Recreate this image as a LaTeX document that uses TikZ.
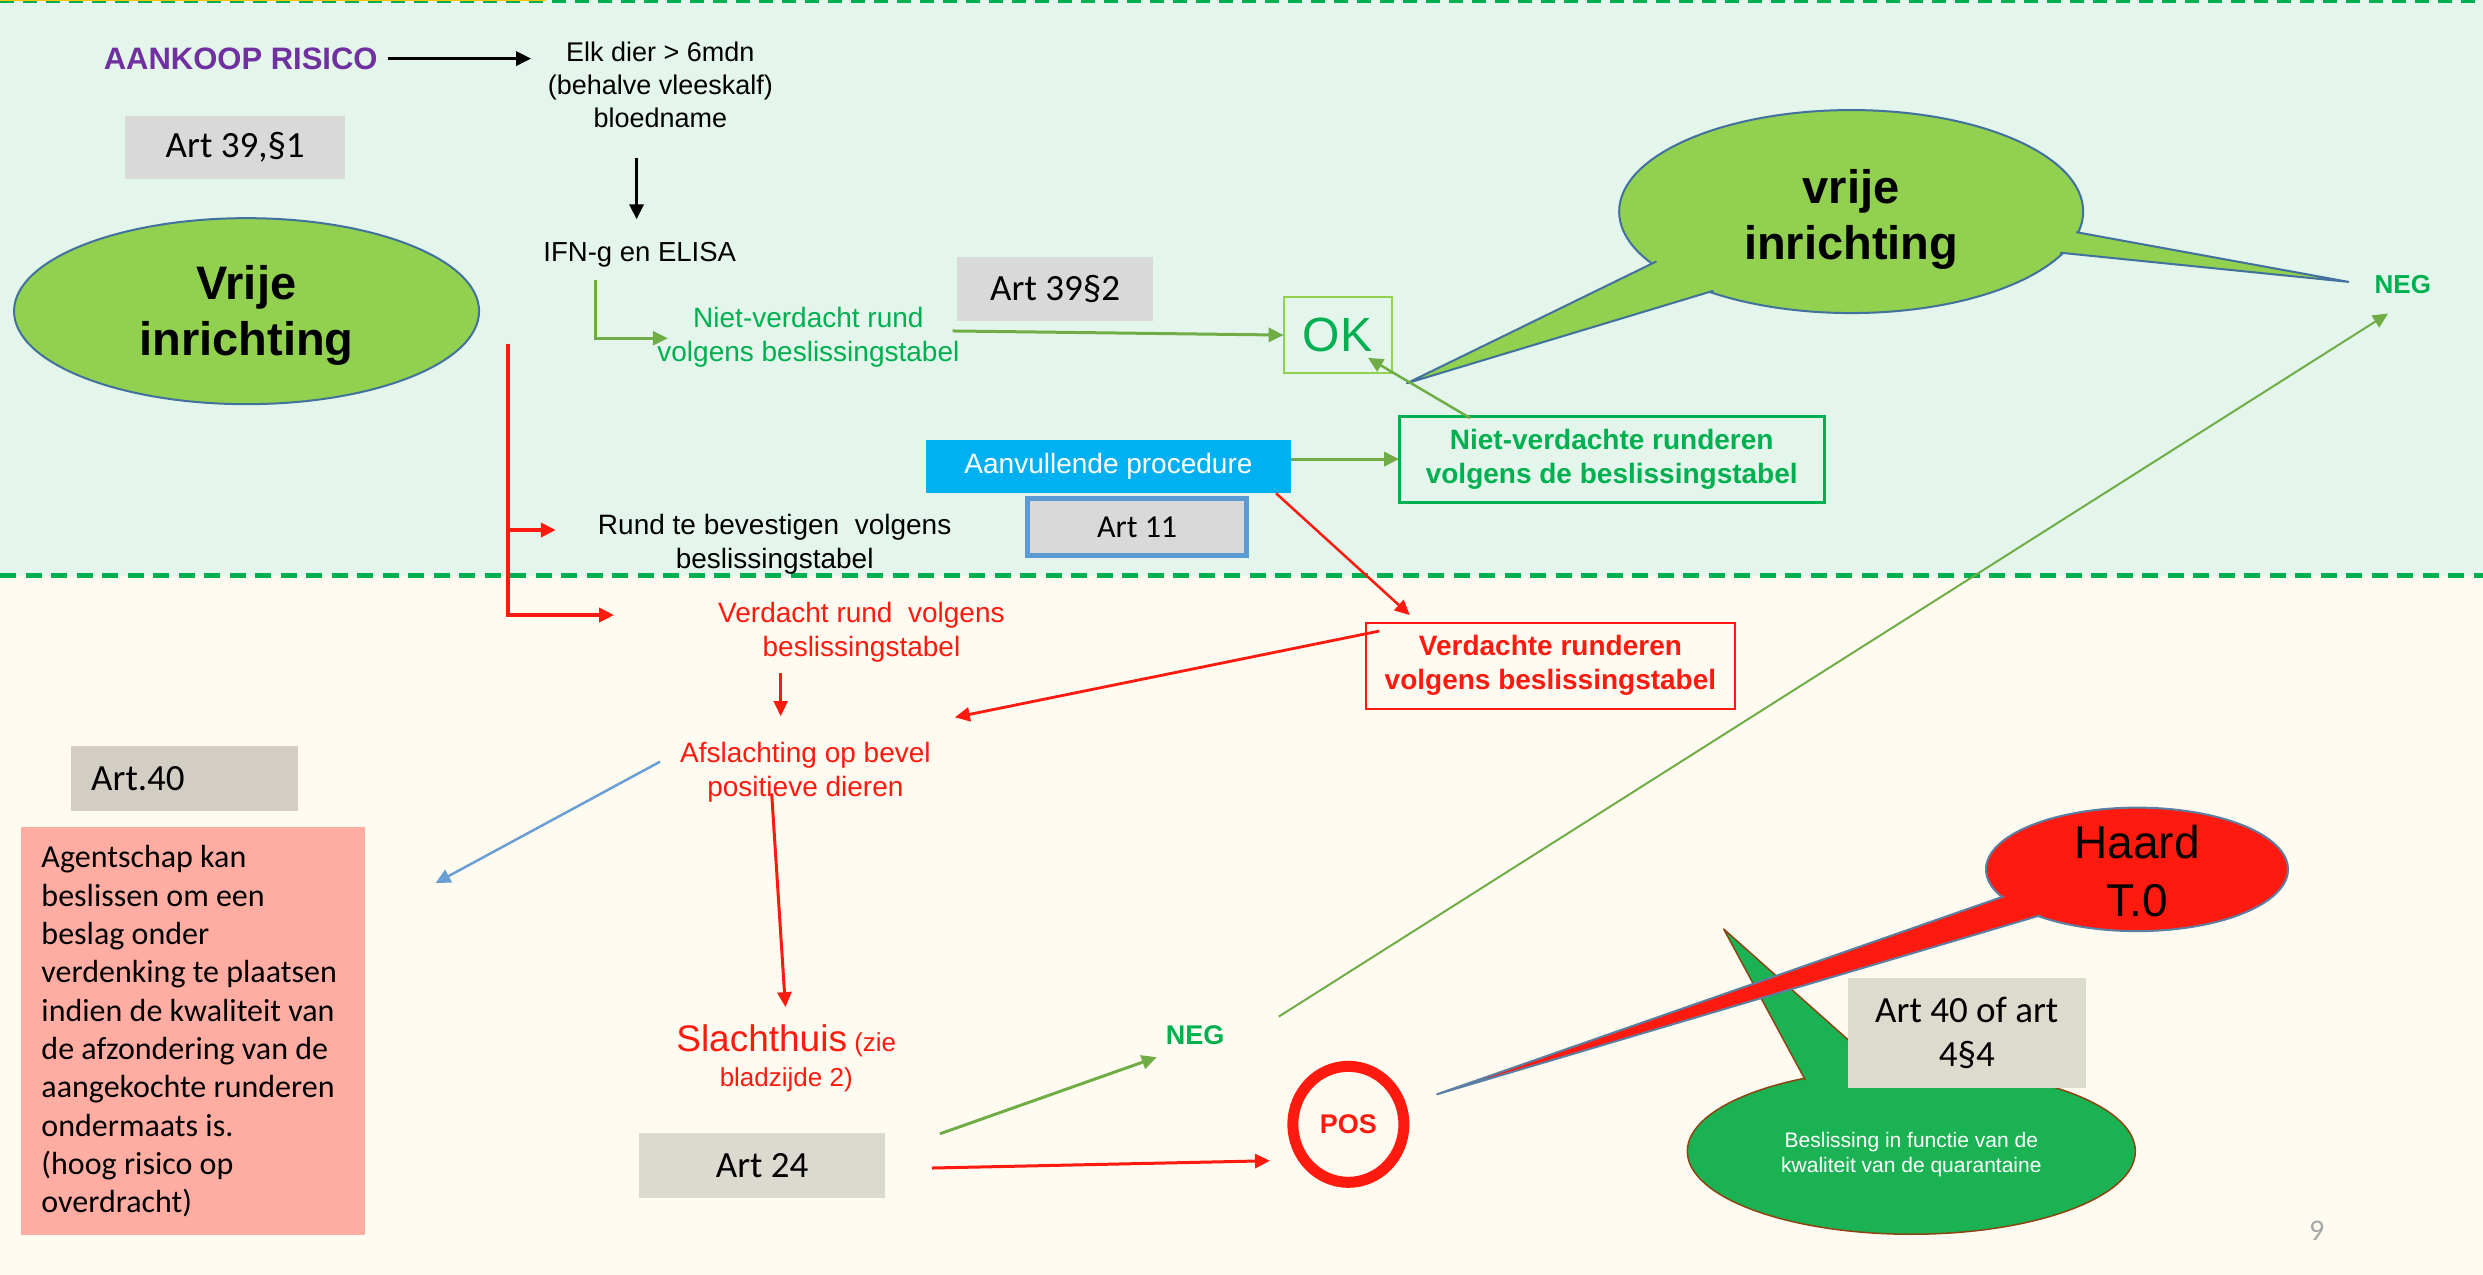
\documentclass[tikz,border=0pt]{standalone}
\usepackage{fontspec}
\setmainfont{Liberation Sans}
\newfontfamily\calfont{Carlito}
\usetikzlibrary{arrows.meta,shapes.geometric,calc}
\definecolor{mint}{HTML}{E4F6EC}
\definecolor{cream}{HTML}{FFFBF0}
\definecolor{dgreen}{HTML}{00B050}
\definecolor{lgreen}{HTML}{70AD47}
\definecolor{ygreen}{HTML}{92D050}
\definecolor{purp}{HTML}{7030A0}
\definecolor{bred}{HTML}{FF1A10}
\definecolor{cyanb}{HTML}{00B0F0}
\definecolor{sblue}{HTML}{5B9BD5}
\definecolor{eblue}{HTML}{41719C}
\definecolor{hblue}{HTML}{5A7FA3}
\definecolor{gbox}{HTML}{D9D9D9}
\definecolor{wbox}{HTML}{DCDAD0}
\definecolor{wboxb}{HTML}{DDDACE}
\definecolor{abox}{HTML}{D3CEC4}
\definecolor{pinkbox}{HTML}{FFADA3}
\definecolor{qgreen}{HTML}{1BB254}
\definecolor{brn}{HTML}{8B4513}
\definecolor{arrblue}{HTML}{6A9FD4}
\definecolor{pgray}{HTML}{A6A6A6}
\definecolor{goldl}{HTML}{FFC000}
\begin{document}
\begin{tikzpicture}[x=1.5835pt,y=-1.5835pt,
  every node/.style={inner sep=0pt,outer sep=0pt},
  arr/.style={-{Triangle[length=15pt,width=14pt]}},
  t28/.style={font=\fontsize{28}{34}\selectfont,align=center},
  b28/.style={font=\bfseries\fontsize{28}{34}\selectfont,align=center},
  cbox/.style={font=\calfont\fontsize{37}{44}\selectfont,align=center,text=black}]
\useasboundingbox (0,0) rectangle (1568,805);
% backgrounds
\fill[mint] (0,0) rectangle (1568,363.5);
\fill[cream] (0,363.5) rectangle (1568,805);
\draw[dgreen,line width=3.3pt,dash pattern=on 14pt off 9pt] (0,1.05) -- (1568,1.05);
\draw[goldl,line width=1pt] (0,0.3) -- (345,0.3);
\draw[dgreen,line width=4.3pt,dash pattern=on 16pt off 9.5pt] (0,363.5) -- (1568,363.5);

% upper part
\node[font=\bfseries\fontsize{31}{37}\selectfont,text=purp] (aankoop) at (152,37) {AANKOOP RISICO};
\node[font=\fontsize{27}{33.3}\selectfont,align=center] (elk) at (417,53.7) {Elk dier > 6mdn\\(behalve vleeskalf)\\bloedname};
\node[fill=gbox,minimum width=220pt,minimum height=63.3pt,cbox] (art391) at (148.5,93) {Art 39,§1};
\node[font=\fontsize{27.5}{33}\selectfont] (ifn) at (404,161) {IFN-g en ELISA};
\node[ellipse,fill=ygreen,draw=eblue,line width=2pt,minimum width=465pt,minimum height=186pt] (vrije) at (155.7,196.5) {};
\node[font=\bfseries\fontsize{47}{55.4}\selectfont,align=center] (vrijet) at (155.7,199.2) {Vrije\\inrichting};
\node[t28,text=dgreen] (niet) at (510.5,213) {Niet-verdacht rund\\volgens beslissingstabel};
\node[fill=gbox,minimum width=195.3pt,minimum height=64.3pt,cbox] (art392) at (666.3,182.7) {Art 39§2};
\node[draw=ygreen,line width=2pt,minimum width=108pt,minimum height=76pt,text=dgreen,font=\fontsize{48}{56}\selectfont] (ok) at (844.7,211.6) {OK};

% vrije inrichting bubble
\node[ellipse,fill=ygreen,draw=eblue,line width=2pt,minimum width=464pt,minimum height=203pt] (vb) at (1169,133.6) {};
\path[fill=ygreen,draw=eblue,line width=2pt,line join=round] ($(vb.center)+(-123,31.5)$) -- ($(vb.center)+(-280.5,108.4)$) -- ($(vb.center)+(-87,50)$);
\path[fill=ygreen,draw=eblue,line width=2pt,line join=round] ($(vb.center)+(142,13)$) -- ($(vb.center)+(314,44.4)$) -- ($(vb.center)+(132,26)$);
\node[font=\bfseries\fontsize{47}{55.4}\selectfont,align=center] (vbt) at (1169,138.5) {vrije\\inrichting};
\node[font=\bfseries\fontsize{26}{31}\selectfont,text=dgreen] (neg1) at (1517.4,179.6) {NEG};

\node[draw=dgreen,line width=3pt,minimum width=425pt,minimum height=86pt,b28,text=dgreen] (nv2) at (1017.8,290.2) {Niet-verdachte runderen\\volgens de beslissingstabel};
\node[fill=cyanb,minimum width=365pt,minimum height=53.2pt,t28,text=white] (aanv) at (700,294.7) {Aanvullende procedure};
\node[fill=gbox,draw=sblue,line width=5pt,minimum width=218.8pt,minimum height=57.4pt,font=\calfont\fontsize{32}{38}\selectfont] (art11) at (718.1,332.9) {Art 11};
\node[t28] (rund) at (489.2,344) {Rund te bevestigen\ \ volgens\\beslissingstabel};

% lower part
\node[draw=bred,line width=2pt,minimum width=369pt,minimum height=86pt,b28,text=bred] (verd) at (979.1,420.3) {Verdachte runderen\\volgens beslissingstabel};
\node[t28,text=bred] (verdr) at (544,399.5) {Verdacht rund\ \ volgens\\beslissingstabel};
\node[t28,text=bred] (afsl) at (508.6,487.6) {Afslachting op bevel\\positieve dieren};
\node[fill=abox,minimum width=227pt,minimum height=65pt,text width=186pt,align=left,font=\calfont\fontsize{37}{44}\selectfont] (art40) at (116.3,491.5) {Art.40};
\node[fill=pinkbox,minimum width=343.8pt,minimum height=408.5pt] (pink) at (121.9,651) {};
\node[anchor=west,align=left,font=\calfont\fontsize{32}{38.3}\selectfont] (pinkt) at (26.2,651.3) {Agentschap kan\\beslissen om een\\beslag onder\\verdenking te plaatsen\\indien de kwaliteit van\\de afzondering van de\\aangekochte runderen\\ondermaats is.\\(hoog risico op\\overdracht)};
\node[align=center,text=bred,font=\fontsize{26}{35.3}\selectfont] (slacht) at (496.5,668.5) {{\fontsize{37}{40}\selectfont Slachthuis} (zie\\bladzijde 2)};
\node[fill=wbox,minimum width=246pt,minimum height=65pt,cbox] (art24) at (481.3,735.8) {Art 24};
\node[font=\bfseries\fontsize{27}{32}\selectfont,text=dgreen] (neg2) at (754.7,653.6) {NEG};
\node[ellipse,draw=bred,line width=11pt,minimum width=111pt,minimum height=116pt,font=\bfseries\fontsize{27}{32}\selectfont,text=bred] (pos) at (851.5,710) {POS};

% green bubble
\node[ellipse,fill=qgreen,draw=brn,line width=1.5pt,minimum width=448pt,minimum height=166pt] (besl) at (1207,727) {};
\path[fill=qgreen,draw=brn,line width=1.5pt,line join=round] ($(besl.center)+(-67,-45)$) -- ($(besl.center)+(-118.5,-140.3)$) -- ($(besl.center)+(-17,-50)$);
\node[align=center,text=white,font=\fontsize{21}{24.4}\selectfont] (beslt) at (1207,729) {Beslissing in functie van de\\kwaliteit van de quarantaine};

% haard bubble
\node[ellipse,fill=bred,draw=hblue,line width=2pt,minimum width=302pt,minimum height=123.5pt] (haard) at (1349.5,549) {};
\path[fill=bred,draw=hblue,line width=2pt,line join=round] ($(haard.center)+(-84,17)$) -- ($(haard.center)+(-442,142)$) -- ($(haard.center)+(-61,29)$);
\node[align=center,font=\fontsize{46}{57.8}\selectfont] (haardt) at (1349.5,550.3) {Haard\\T.0};

\node[fill=wboxb,minimum width=237.5pt,minimum height=110pt,cbox] (art404) at (1242,652.3) {Art 40 of art\\4§4};
\node[font=\calfont\fontsize{30}{36}\selectfont,text=pgray] (pnum) at (1463,777) {9};

% connectors
\draw[arr,line width=3.3pt] ($(aankoop.center)+(93,0)$) -- ($(elk.center)+(-81.6,-16.7)$);
\draw[arr,line width=3.3pt] ($(elk.center)+(-15,46.3)$) -- ($(ifn.center)+(-2,-22.5)$);
\draw[arr,lgreen,line width=3pt] ($(ifn.center)+(-28,15.8)$) |- ($(niet.center)+(-88.8,0.6)$);
\draw[arr,lgreen,line width=3pt] ($(niet.center)+(91,-4)$) -- (ok.west);
\draw[arr,lgreen,line width=2.5pt] ($(nv2.center)+(-89.4,-26.2)$) -- ($(ok.center)+(19.2,14.4)$);
\draw[arr,lgreen,line width=3pt] ($(aanv.center)+(115.3,-4.8)$) -- ($(nv2.west)+(0,-0.3)$);
\draw[arr,bred,line width=2.5pt] ($(aanv.center)+(105.8,16.8)$) -- ($(verd.center)+(-88.8,-31.9)$);
\draw[arr,bred,line width=2.8pt] ($(verd.center)+(-108.1,-21.8)$) -- ($(afsl.center)+(94.4,-34.6)$);
\draw[arr,bred,line width=4pt] ($(vrije.center)+(165.3,20.5)$) |- ($(verdr.center)+(-156.2,-11.1)$);
\draw[arr,bred,line width=4pt] ($(rund.center)+(-168.2,-9.3)$) -- ($(rund.center)+(-138.2,-9.3)$);
\draw[arr,bred,line width=2.5pt] ($(verdr.center)+(-51,25.3)$) -- ($(afsl.center)+(-15.6,-35.4)$);
\draw[arr,arrblue,line width=2.5pt] ($(afsl.center)+(-91.8,-6.6)$) -- ($(pink.center)+(153.1,-93.3)$);
\draw[arr,bred,line width=3pt] ($(afsl.center)+(-21.3,13.4)$) -- ($(slacht.center)+(-0.5,-32.5)$);
\draw[arr,lgreen,line width=3pt] ($(art24.center)+(112.2,-19.8)$) -- ($(neg2.center)+(-24.2,14)$);
\draw[arr,lgreen,line width=2pt] ($(neg2.center)+(52.8,-11.6)$) -- ($(neg1.center)+(-9.4,18.4)$);
\draw[arr,bred,line width=3pt] ($(art24.center)+(107.1,1.8)$) -- ($(pos.center)+(-49.5,23)$);
\end{tikzpicture}
\end{document}
